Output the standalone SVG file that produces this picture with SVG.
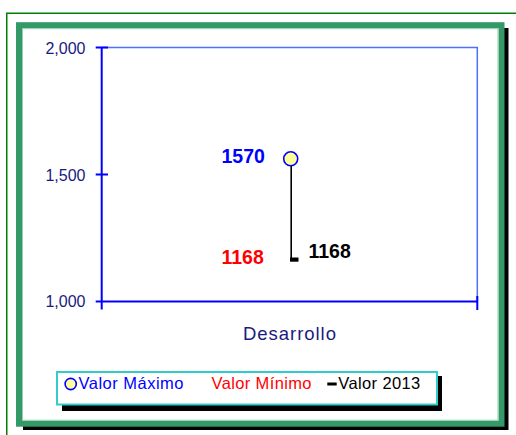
<svg xmlns="http://www.w3.org/2000/svg" width="516" height="435" viewBox="0 0 516 435">
<style>
text{font-family:"Liberation Sans",Arial,sans-serif}
.ax{font-size:16px;fill:#1a1a80}
.dl{font-size:19.5px;font-weight:bold}
.lg{font-size:16.5px}
</style>
<rect x="0" y="0" width="516" height="435" fill="#ffffff"/>
<g id="outer-frame">
<rect x="6.75" y="13.25" width="520" height="440" fill="none" stroke="#008000" stroke-width="1.5"/>
<rect x="23" y="28" width="485.5" height="402" fill="#000000"/>
<rect x="19" y="25.2" width="482.5" height="398.5" fill="#ffffff" stroke="#339966" stroke-width="6"/>
<rect x="22.5" y="28.7" width="475.5" height="391.5" fill="none" stroke="#99ccb0" stroke-width="1"/>
</g>
<g id="plot-area">
<path d="M101.7 47.5 H477.3 V301.5" fill="none" stroke="#4d70ff" stroke-width="1.5"/>
<path d="M101.7 47.5 V309.5 M95.7 47.5 H108 M95.7 174.5 H108 M95.7 301.5 H108 M101.7 301.5 H477.3 M477.3 296 V310" fill="none" stroke="#0000ff" stroke-width="2"/>
</g>
<g id="axis-labels">
<text class="ax" x="85.5" y="53.5" text-anchor="end">2,000</text>
<text class="ax" x="85.5" y="180.5" text-anchor="end">1,500</text>
<text class="ax" x="85.5" y="306.5" text-anchor="end">1,000</text>
<text x="289.5" y="340" text-anchor="middle" font-size="18.5" fill="#1a1a80" textLength="93" lengthAdjust="spacing">Desarrollo</text>
</g>
<g id="connectors">
<line x1="291.2" y1="166" x2="291.2" y2="260" stroke="#000000" stroke-width="1.6"/>
</g>
<g id="node-max">
<circle cx="290.7" cy="158.8" r="7" fill="#ffff99" stroke="#0000ff" stroke-width="1.6"/>
<text class="dl" x="221.5" y="163.3" fill="#0000ff">1570</text>
</g>
<g id="node-min">
<text class="dl" x="221.5" y="264.3" fill="#ff0000">1168</text>
</g>
<g id="node-2013">
<rect x="290" y="257.5" width="8.5" height="4.2" fill="#000000"/>
<text class="dl" x="308.5" y="257.7" fill="#000000">1168</text>
</g>
<g id="legend">
<rect x="62" y="376" width="380" height="35" fill="#000000"/>
<rect x="57" y="372" width="380" height="32.5" fill="#ffffff" stroke="#33cccc" stroke-width="2"/>
<circle cx="70.7" cy="384" r="5.6" fill="#ffff99" stroke="#0000ff" stroke-width="1.6"/>
<text class="lg" x="78.5" y="389" fill="#0000ff" textLength="105" lengthAdjust="spacing">Valor Máximo</text>
<text class="lg" x="211.5" y="389" fill="#ff0000" textLength="100" lengthAdjust="spacing">Valor Mínimo</text>
<rect x="327.3" y="382.5" width="9.4" height="3" fill="#000000"/>
<text class="lg" x="338.3" y="389" fill="#000000" textLength="82" lengthAdjust="spacing">Valor 2013</text>
</g>
</svg>
